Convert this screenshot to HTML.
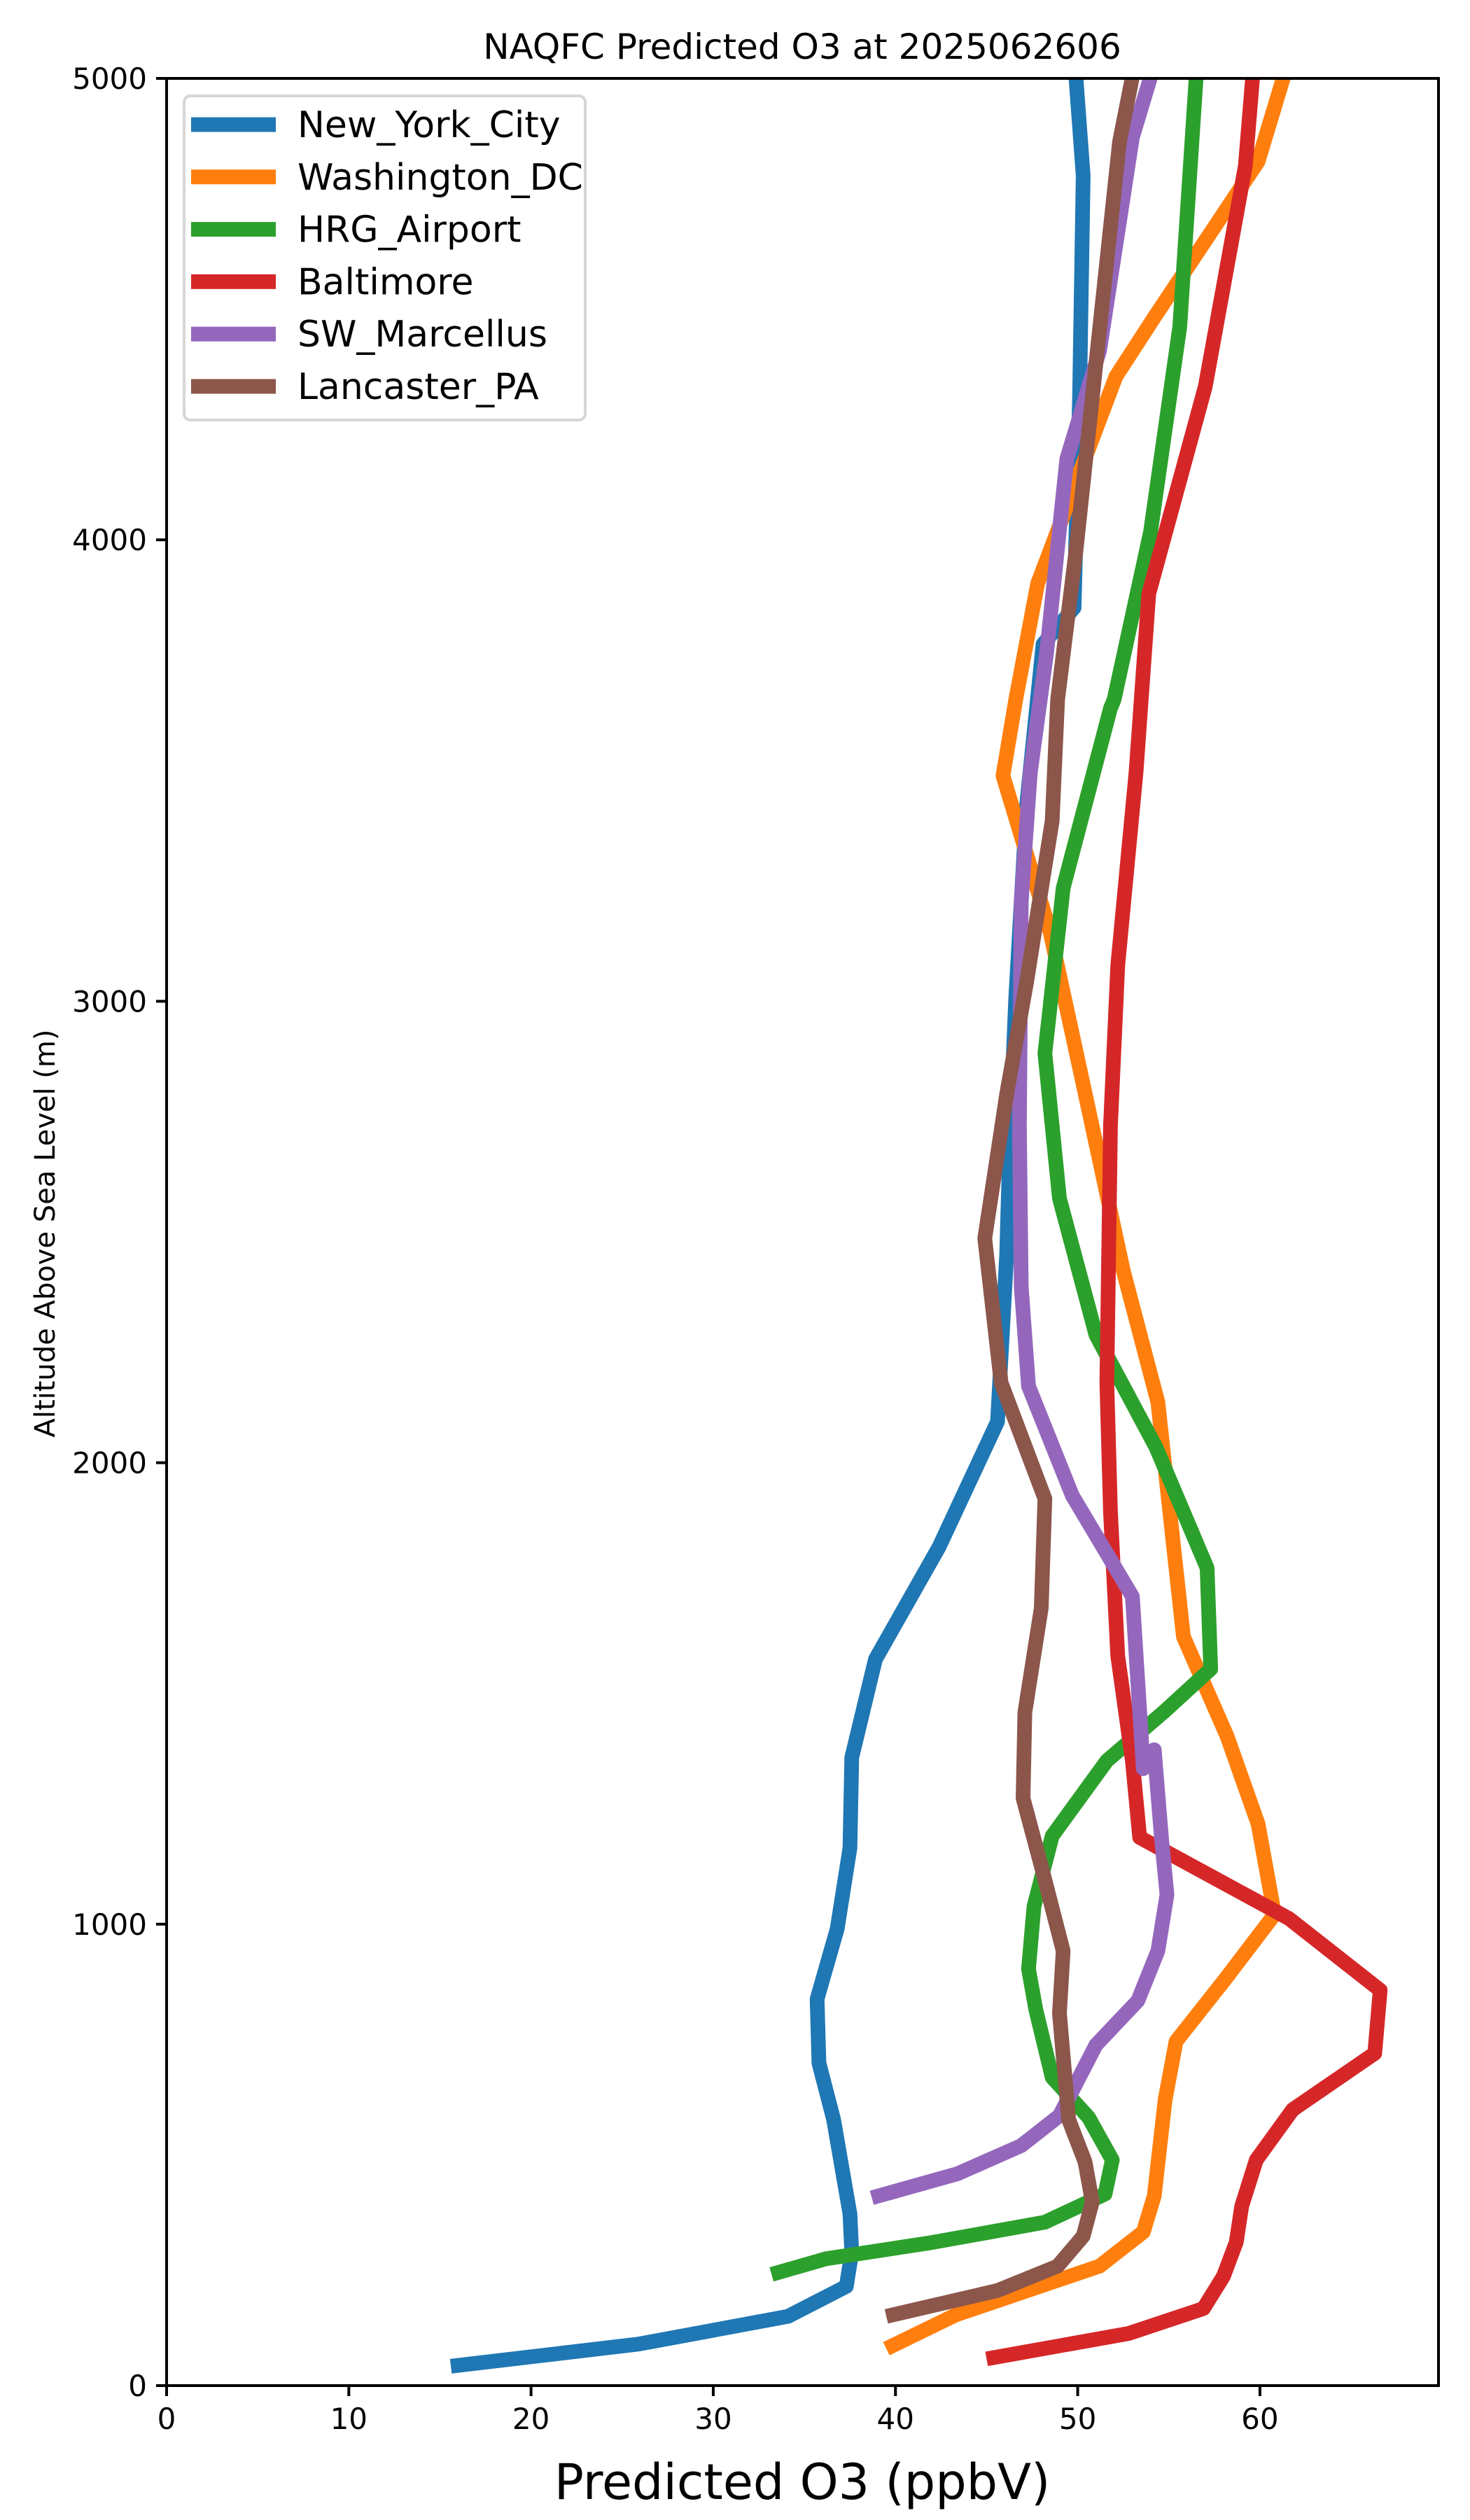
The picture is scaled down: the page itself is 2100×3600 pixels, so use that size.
<!DOCTYPE html>
<html><head><meta charset="utf-8"><style>
html,body{margin:0;padding:0;background:#fff;}
svg{display:block;}
text{font-family:"DejaVu Sans","Liberation Sans",sans-serif;fill:#000;}
</style></head><body>
<svg id="chart" width="2100" height="3600" viewBox="0 0 2100 3600" xmlns="http://www.w3.org/2000/svg">
<defs><clipPath id="plotclip"><rect x="238" y="112" width="1817" height="3296"/></clipPath></defs>
<rect x="0" y="0" width="2100" height="3600" fill="#fff"/>
<text x="1146" y="84" font-size="50" text-anchor="middle">NAQFC Predicted O3 at 2025062606</text>
<g id="series" clip-path="url(#plotclip)"></g>
<g id="axes"></g>
<text x="1146" y="3570" font-size="70" text-anchor="middle">Predicted O3 (ppbV)</text>
<text transform="translate(78,1762) rotate(-90)" font-size="40" text-anchor="middle">Altitude Above Sea Level (m)</text>
<g id="legend"></g>
</svg>
<script>
const seriesNames = ["New_York_City","Washington_DC","HRG_Airport","Baltimore","SW_Marcellus","Lancaster_PA"];
const seriesColors = ["#1f77b4","#ff7f0e","#2ca02c","#d62728","#9467bd","#8c564b"];
const nycO3 = [15.6,25.9,34.1,37.3,37.6,37.5,37.1,36.6,35.8,35.7,36.8,37.5,37.6,38.9,42.4,45.6,46.1,46.3,46.6,47.2,48.1,49.8,50.1,50.3,49.9];
const nycAlt = [42,90,150,215,289,372,463,577,699,838,990,1165,1361,1574,1818,2089,2451,2730,3008,3426,3774,3853,4306,4789,5003];
const dcO3 = [39.5,43.3,51.2,53.6,54.2,54.8,55.4,58.1,60.8,59.9,58.2,55.8,54.4,52.5,50.6,48.5,45.9,46.6,47.8,52.1,54.3,59.9,61.3];
const dcAlt = [80,153,259,333,411,620,746,881,1021,1217,1407,1623,2131,2416,2765,3148,3489,3654,3905,4354,4488,4820,5003];
const hrgO3 = [33.2,36.2,42.0,48.2,51.5,51.9,50.6,48.6,47.7,47.3,47.6,48.6,51.6,54.7,57.3,57.1,54.3,51.0,49.0,48.2,49.2,51.8,52.0,54.0,55.6,56.5];
const hrgAlt = [241,275,310,354,415,489,581,668,815,903,1038,1191,1354,1459,1553,1772,2033,2277,2573,2887,3245,3635,3654,4018,4462,5003];
const balO3 = [45.0,52.8,56.9,58.0,58.7,59.0,59.8,61.8,66.3,66.6,61.6,57.5,53.4,53.0,52.2,51.8,51.6,51.8,52.2,53.2,53.9,57.0,59.2,59.6];
const balAlt = [58,113,167,237,311,389,489,598,720,857,1012,1100,1188,1354,1581,1894,2173,2730,3078,3496,3883,4332,4811,5003];
const swmO3 = [38.7,43.4,46.9,49.0,51.0,53.3,54.4,54.9,54.6,54.2,53.6,53.0,49.7,47.3,46.9,46.8,46.9,47.4,48.3,49.4,51.2,53.0,54.0];
const swmAlt = [407,459,520,585,738,834,942,1064,1186,1378,1337,1710,1929,2166,2382,2730,3217,3496,3757,4175,4410,4872,5003];
const lanO3 = [39.5,45.6,48.9,50.3,50.8,50.4,49.5,49.0,49.2,48.1,47.0,47.1,48.0,48.2,45.8,44.9,46.1,47.2,48.6,48.9,49.9,52.3,53.0];
const lanAlt = [150,206,259,324,398,485,577,807,942,1111,1273,1459,1685,1922,2173,2486,2799,3043,3391,3654,3975,4863,5003];
const xTicks = [0,10,20,30,40,50,60];
const yTicks = [0,1000,2000,3000,4000,5000];

const NS="http://www.w3.org/2000/svg";
const X0=238,X1=2055,Y0=3408,Y1=112,XMAX=69.8,YMAX=5000;
function xs(v){return X0+(X1-X0)*v/XMAX;}
function ys(h){return Y0-(Y0-Y1)*h/YMAX;}
function mk(tag,attrs,parent){const e=document.createElementNS(NS,tag);for(const k in attrs)e.setAttribute(k,attrs[k]);parent.appendChild(e);return e;}

const allO3=[nycO3,dcO3,hrgO3,balO3,swmO3,lanO3];
const allAlt=[nycAlt,dcAlt,hrgAlt,balAlt,swmAlt,lanAlt];
const sg=document.getElementById('series');
for(let s=0;s<seriesNames.length;s++){
  const pts=allO3[s].map((v,i)=>xs(v).toFixed(1)+','+ys(allAlt[s][i]).toFixed(1)).join(' ');
  const pl=mk('polyline',{points:pts,fill:'none',stroke:seriesColors[s],'stroke-width':21,'stroke-linejoin':'round','stroke-linecap':'butt'},sg);
  
  
}

const ax=document.getElementById('axes');
const frame=mk('rect',{x:X0,y:Y1,width:X1-X0,height:Y0-Y1,fill:'none',stroke:'#000','stroke-width':4},ax);


xTicks.forEach(t=>{
  const x=xs(t);
  const tk=mk('line',{x1:x,y1:Y0,x2:x,y2:Y0+15,stroke:'#000','stroke-width':4},ax);
  
  
  const tl=mk('text',{x:x,y:Y0+62,'font-size':42,'text-anchor':'middle'},ax);
  tl.textContent=t;
  
  
});
yTicks.forEach(t=>{
  const y=ys(t);
  const tk=mk('line',{x1:X0-15,y1:y,x2:X0,y2:y,stroke:'#000','stroke-width':4},ax);
  
  
  const tl=mk('text',{x:X0-28,y:y+15,'font-size':42,'text-anchor':'end'},ax);
  tl.textContent=t;
  
  
});

const lg=document.getElementById('legend');
const box=mk('rect',{x:263,y:137,width:573,height:463,rx:9,fill:'#fff','fill-opacity':0.8,stroke:'#d6d6d6','stroke-width':4},lg);


seriesNames.forEach((n,i)=>{
  const y=178+i*74.8;
  const ln=mk('line',{x1:273,y1:y,x2:394,y2:y,stroke:seriesColors[i],'stroke-width':21},lg);
  
  
  const tx=mk('text',{x:425,y:y+18,'font-size':52},lg);
  tx.textContent=n;
  
  
});
</script>
</body></html>
